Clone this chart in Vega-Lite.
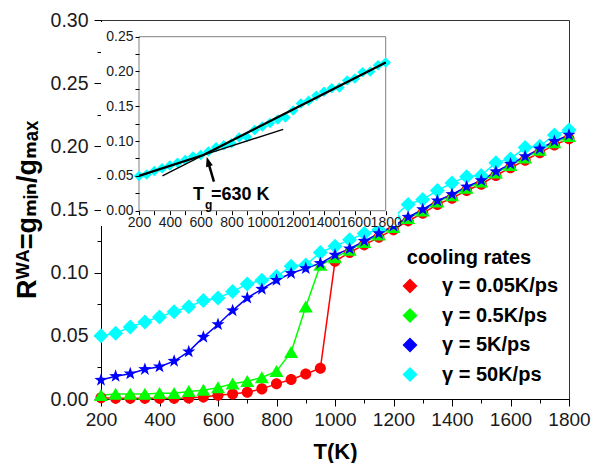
{
  "$schema": "https://vega.github.io/schema/vega-lite/v6.json",
  "width": 468,
  "height": 379,
  "autosize": {"type": "none"},
  "padding": {"left": 101, "top": 20, "right": 32, "bottom": 64},
  "background": "white",
  "config": {
    "font": "Liberation Sans",
    "view": {"stroke": "#333333", "strokeWidth": 1},
    "axis": {"grid": false, "domainColor": "#000000", "tickColor": "#000000", "labelColor": "#1a1a1a", "labelFont": "Liberation Sans", "titleFont": "Liberation Sans, DejaVu Sans", "titleColor": "#000000"}
  },
  "datasets": {
    "rates": [
      {"series": "γ = 50K/ps", "T": 200, "R": 0.050}, {"series": "γ = 50K/ps", "T": 250, "R": 0.052}, {"series": "γ = 50K/ps", "T": 300, "R": 0.057}, {"series": "γ = 50K/ps", "T": 350, "R": 0.061}, {"series": "γ = 50K/ps", "T": 400, "R": 0.065}, {"series": "γ = 50K/ps", "T": 450, "R": 0.069}, {"series": "γ = 50K/ps", "T": 500, "R": 0.073}, {"series": "γ = 50K/ps", "T": 550, "R": 0.078}, {"series": "γ = 50K/ps", "T": 600, "R": 0.080}, {"series": "γ = 50K/ps", "T": 650, "R": 0.085}, {"series": "γ = 50K/ps", "T": 700, "R": 0.091}, {"series": "γ = 50K/ps", "T": 750, "R": 0.094}, {"series": "γ = 50K/ps", "T": 800, "R": 0.097}, {"series": "γ = 50K/ps", "T": 850, "R": 0.105}, {"series": "γ = 50K/ps", "T": 900, "R": 0.106}, {"series": "γ = 50K/ps", "T": 950, "R": 0.116}, {"series": "γ = 50K/ps", "T": 1000, "R": 0.121}, {"series": "γ = 50K/ps", "T": 1050, "R": 0.126}, {"series": "γ = 50K/ps", "T": 1100, "R": 0.131}, {"series": "γ = 50K/ps", "T": 1150, "R": 0.134}, {"series": "γ = 50K/ps", "T": 1200, "R": 0.144}, {"series": "γ = 50K/ps", "T": 1250, "R": 0.154}, {"series": "γ = 50K/ps", "T": 1300, "R": 0.158}, {"series": "γ = 50K/ps", "T": 1350, "R": 0.165}, {"series": "γ = 50K/ps", "T": 1400, "R": 0.171}, {"series": "γ = 50K/ps", "T": 1450, "R": 0.176}, {"series": "γ = 50K/ps", "T": 1500, "R": 0.177}, {"series": "γ = 50K/ps", "T": 1550, "R": 0.187}, {"series": "γ = 50K/ps", "T": 1600, "R": 0.190}, {"series": "γ = 50K/ps", "T": 1650, "R": 0.199}, {"series": "γ = 50K/ps", "T": 1700, "R": 0.200}, {"series": "γ = 50K/ps", "T": 1750, "R": 0.209}, {"series": "γ = 50K/ps", "T": 1800, "R": 0.213},
      {"series": "γ = 0.05K/ps", "T": 200, "R": 0.001}, {"series": "γ = 0.05K/ps", "T": 250, "R": 0.0005}, {"series": "γ = 0.05K/ps", "T": 300, "R": 0.0005}, {"series": "γ = 0.05K/ps", "T": 350, "R": 0.0005}, {"series": "γ = 0.05K/ps", "T": 400, "R": 0.0005}, {"series": "γ = 0.05K/ps", "T": 450, "R": 0.0005}, {"series": "γ = 0.05K/ps", "T": 500, "R": 0.0008}, {"series": "γ = 0.05K/ps", "T": 550, "R": 0.0015}, {"series": "γ = 0.05K/ps", "T": 600, "R": 0.003}, {"series": "γ = 0.05K/ps", "T": 650, "R": 0.004}, {"series": "γ = 0.05K/ps", "T": 700, "R": 0.0053}, {"series": "γ = 0.05K/ps", "T": 750, "R": 0.008}, {"series": "γ = 0.05K/ps", "T": 800, "R": 0.012}, {"series": "γ = 0.05K/ps", "T": 850, "R": 0.0155}, {"series": "γ = 0.05K/ps", "T": 900, "R": 0.0198}, {"series": "γ = 0.05K/ps", "T": 950, "R": 0.0243}, {"series": "γ = 0.05K/ps", "T": 1000, "R": 0.109}, {"series": "γ = 0.05K/ps", "T": 1050, "R": 0.116}, {"series": "γ = 0.05K/ps", "T": 1100, "R": 0.122}, {"series": "γ = 0.05K/ps", "T": 1150, "R": 0.128}, {"series": "γ = 0.05K/ps", "T": 1200, "R": 0.134}, {"series": "γ = 0.05K/ps", "T": 1250, "R": 0.141}, {"series": "γ = 0.05K/ps", "T": 1300, "R": 0.147}, {"series": "γ = 0.05K/ps", "T": 1350, "R": 0.154}, {"series": "γ = 0.05K/ps", "T": 1400, "R": 0.159}, {"series": "γ = 0.05K/ps", "T": 1450, "R": 0.165}, {"series": "γ = 0.05K/ps", "T": 1500, "R": 0.170}, {"series": "γ = 0.05K/ps", "T": 1550, "R": 0.177}, {"series": "γ = 0.05K/ps", "T": 1600, "R": 0.183}, {"series": "γ = 0.05K/ps", "T": 1650, "R": 0.189}, {"series": "γ = 0.05K/ps", "T": 1700, "R": 0.195}, {"series": "γ = 0.05K/ps", "T": 1750, "R": 0.201}, {"series": "γ = 0.05K/ps", "T": 1800, "R": 0.206},
      {"series": "γ = 0.5K/ps", "T": 200, "R": 0.003}, {"series": "γ = 0.5K/ps", "T": 250, "R": 0.004}, {"series": "γ = 0.5K/ps", "T": 300, "R": 0.004}, {"series": "γ = 0.5K/ps", "T": 350, "R": 0.004}, {"series": "γ = 0.5K/ps", "T": 400, "R": 0.0045}, {"series": "γ = 0.5K/ps", "T": 450, "R": 0.0045}, {"series": "γ = 0.5K/ps", "T": 500, "R": 0.006}, {"series": "γ = 0.5K/ps", "T": 550, "R": 0.007}, {"series": "γ = 0.5K/ps", "T": 600, "R": 0.009}, {"series": "γ = 0.5K/ps", "T": 650, "R": 0.012}, {"series": "γ = 0.5K/ps", "T": 700, "R": 0.014}, {"series": "γ = 0.5K/ps", "T": 750, "R": 0.017}, {"series": "γ = 0.5K/ps", "T": 800, "R": 0.022}, {"series": "γ = 0.5K/ps", "T": 850, "R": 0.037}, {"series": "γ = 0.5K/ps", "T": 900, "R": 0.073}, {"series": "γ = 0.5K/ps", "T": 950, "R": 0.106}, {"series": "γ = 0.5K/ps", "T": 1000, "R": 0.112}, {"series": "γ = 0.5K/ps", "T": 1050, "R": 0.118}, {"series": "γ = 0.5K/ps", "T": 1100, "R": 0.124}, {"series": "γ = 0.5K/ps", "T": 1150, "R": 0.130}, {"series": "γ = 0.5K/ps", "T": 1200, "R": 0.136}, {"series": "γ = 0.5K/ps", "T": 1250, "R": 0.143}, {"series": "γ = 0.5K/ps", "T": 1300, "R": 0.149}, {"series": "γ = 0.5K/ps", "T": 1350, "R": 0.156}, {"series": "γ = 0.5K/ps", "T": 1400, "R": 0.161}, {"series": "γ = 0.5K/ps", "T": 1450, "R": 0.167}, {"series": "γ = 0.5K/ps", "T": 1500, "R": 0.172}, {"series": "γ = 0.5K/ps", "T": 1550, "R": 0.179}, {"series": "γ = 0.5K/ps", "T": 1600, "R": 0.185}, {"series": "γ = 0.5K/ps", "T": 1650, "R": 0.191}, {"series": "γ = 0.5K/ps", "T": 1700, "R": 0.197}, {"series": "γ = 0.5K/ps", "T": 1750, "R": 0.203}, {"series": "γ = 0.5K/ps", "T": 1800, "R": 0.208},
      {"series": "γ = 5K/ps", "T": 200, "R": 0.015}, {"series": "γ = 5K/ps", "T": 250, "R": 0.018}, {"series": "γ = 5K/ps", "T": 300, "R": 0.020}, {"series": "γ = 5K/ps", "T": 350, "R": 0.0235}, {"series": "γ = 5K/ps", "T": 400, "R": 0.0256}, {"series": "γ = 5K/ps", "T": 450, "R": 0.030}, {"series": "γ = 5K/ps", "T": 500, "R": 0.0375}, {"series": "γ = 5K/ps", "T": 550, "R": 0.049}, {"series": "γ = 5K/ps", "T": 600, "R": 0.059}, {"series": "γ = 5K/ps", "T": 650, "R": 0.070}, {"series": "γ = 5K/ps", "T": 700, "R": 0.080}, {"series": "γ = 5K/ps", "T": 750, "R": 0.087}, {"series": "γ = 5K/ps", "T": 800, "R": 0.094}, {"series": "γ = 5K/ps", "T": 850, "R": 0.0995}, {"series": "γ = 5K/ps", "T": 900, "R": 0.1034}, {"series": "γ = 5K/ps", "T": 950, "R": 0.1074}, {"series": "γ = 5K/ps", "T": 1000, "R": 0.114}, {"series": "γ = 5K/ps", "T": 1050, "R": 0.119}, {"series": "γ = 5K/ps", "T": 1100, "R": 0.125}, {"series": "γ = 5K/ps", "T": 1150, "R": 0.131}, {"series": "γ = 5K/ps", "T": 1200, "R": 0.137}, {"series": "γ = 5K/ps", "T": 1250, "R": 0.144}, {"series": "γ = 5K/ps", "T": 1300, "R": 0.150}, {"series": "γ = 5K/ps", "T": 1350, "R": 0.157}, {"series": "γ = 5K/ps", "T": 1400, "R": 0.162}, {"series": "γ = 5K/ps", "T": 1450, "R": 0.168}, {"series": "γ = 5K/ps", "T": 1500, "R": 0.173}, {"series": "γ = 5K/ps", "T": 1550, "R": 0.180}, {"series": "γ = 5K/ps", "T": 1600, "R": 0.186}, {"series": "γ = 5K/ps", "T": 1650, "R": 0.192}, {"series": "γ = 5K/ps", "T": 1700, "R": 0.198}, {"series": "γ = 5K/ps", "T": 1750, "R": 0.204}, {"series": "γ = 5K/ps", "T": 1800, "R": 0.209}
    ],
    "fits": [
      {"fit": "low", "T": 200, "R": 0.050}, {"fit": "low", "T": 1135, "R": 0.117},
      {"fit": "high", "T": 352, "R": 0.050}, {"fit": "high", "T": 1800, "R": 0.213},
      {"fit": "main", "T": 200, "R": 0.050}, {"fit": "main", "T": 618, "R": 0.080}, {"fit": "main", "T": 1800, "R": 0.213}
    ]
  },
  "layer": [
    {
      "layer": [
        {
          "data": {"name": "rates"},
          "mark": {"type": "line", "strokeWidth": 1.5},
          "encoding": {
            "x": {"field": "T", "type": "quantitative", "scale": {"domain": [200, 1800], "nice": false, "zero": false},
              "axis": {"orient": "bottom", "values": [200, 400, 600, 800, 1000, 1200, 1400, 1600, 1800], "format": "d", "tickSize": 7, "labelFontSize": 19, "labelPadding": 4, "labelFlush": false, "labelOverlap": false, "title": "T(K)", "titleFontSize": 22, "titleFontWeight": "bold", "titlePadding": 12}},
            "y": {"field": "R", "type": "quantitative", "scale": {"domain": [0, 0.3], "nice": false, "zero": false},
              "axis": {"orient": "left", "values": [0, 0.05, 0.1, 0.15, 0.2, 0.25, 0.3], "format": ".2f", "tickSize": 7, "labelFontSize": 19.5, "labelPadding": 6, "labelFlush": false, "labelOverlap": false, "title": "Rᵂᴬ=gₘᵢₙ/gₘₐₓ", "titleFontSize": 27, "titleFontWeight": "bold", "titlePadding": 9}},
            "color": {"field": "series", "type": "nominal",
              "scale": {"domain": ["γ = 0.05K/ps", "γ = 0.5K/ps", "γ = 5K/ps", "γ = 50K/ps"], "range": ["#ff0000", "#00ff00", "#0000ff", "#00ffff"]},
              "legend": null}
          }
        },
        {
          "data": {"name": "rates"},
          "transform": [{"filter": "datum.series === 'γ = 50K/ps'"}],
          "mark": {"type": "point", "filled": true, "opacity": 1, "size": 144, "shape": "M-1.25,0L0,-1.25L1.25,0L0,1.25Z"},
          "encoding": {
            "x": {"field": "T", "type": "quantitative", "scale": {"domain": [200, 1800], "nice": false, "zero": false},
              "axis": {"orient": "bottom", "values": [300, 500, 700, 900, 1100, 1300, 1500, 1700], "tickSize": 4, "labels": false, "domain": false, "title": null}},
            "y": {"field": "R", "type": "quantitative", "scale": {"domain": [0, 0.3], "nice": false, "zero": false},
              "axis": {"orient": "left", "values": [0.025, 0.075, 0.125, 0.175, 0.225, 0.275], "tickSize": 4, "labels": false, "domain": false, "title": null}},
            "color": {"field": "series", "type": "nominal",
              "scale": {"domain": ["γ = 0.05K/ps", "γ = 0.5K/ps", "γ = 5K/ps", "γ = 50K/ps"], "range": ["#ff0000", "#00ff00", "#0000ff", "#00ffff"]},
              "legend": {"orient": "none", "legendX": 279, "legendY": 228, "padding": 0, "title": "cooling rates", "titleFontSize": 20, "titleFontWeight": "bold", "titleColor": "#000000", "titleAnchor": "middle", "titlePadding": 8, "labelFontSize": 20, "labelFontWeight": "bold", "labelColor": "#000000", "labelFont": "Liberation Sans, DejaVu Sans", "titleFont": "Liberation Sans", "labelOffset": 22, "symbolOffset": 20, "symbolSize": 144, "rowPadding": 9.5,
                "encode": {"symbols": {"update": {
                  "shape": {"signal": "datum.value === 'γ = 0.05K/ps' ? 'M-4.2,0L4.2,0M-0.85,0A0.85,0.85,0,1,0,0.85,0A0.85,0.85,0,1,0,-0.85,0Z' : datum.value === 'γ = 0.5K/ps' ? 'M-4.2,0L4.2,0M0,-1.1L1.05,0.85L-1.05,0.85Z' : datum.value === 'γ = 5K/ps' ? 'M-4.2,0L4.2,0M0,-0.95L0.223,-0.308L0.904,-0.294L0.361,0.118L0.559,0.769L0,0.38L-0.559,0.769L-0.361,0.118L-0.904,-0.294L-0.223,-0.308Z' : 'M-4.2,0L4.2,0M-1.2,0L0,-1.2L1.2,0L0,1.2Z'"},
                  "stroke": {"signal": "datum.value === 'γ = 0.05K/ps' ? '#ff0000' : datum.value === 'γ = 0.5K/ps' ? '#00ff00' : datum.value === 'γ = 5K/ps' ? '#0000ff' : '#00ffff'"},
                  "strokeWidth": {"value": 1.5},
                  "opacity": {"value": 1}
                }}}}}
          }
        },
        {
          "data": {"name": "rates"},
          "transform": [{"filter": "datum.series === 'γ = 0.05K/ps'"}],
          "mark": {"type": "point", "filled": true, "opacity": 1, "size": 144, "color": "#ff0000", "shape": "M-0.92,0A0.92,0.92,0,1,0,0.92,0A0.92,0.92,0,1,0,-0.92,0Z"},
          "encoding": {
            "x": {"field": "T", "type": "quantitative", "scale": {"domain": [200, 1800], "nice": false, "zero": false}, "axis": null},
            "y": {"field": "R", "type": "quantitative", "scale": {"domain": [0, 0.3], "nice": false, "zero": false}, "axis": null}
          }
        },
        {
          "data": {"name": "rates"},
          "transform": [{"filter": "datum.series === 'γ = 0.5K/ps'"}],
          "mark": {"type": "point", "filled": true, "opacity": 1, "size": 144, "color": "#00ff00", "shape": "M0,-1.05L1.17,0.95L-1.17,0.95Z"},
          "encoding": {
            "x": {"field": "T", "type": "quantitative", "scale": {"domain": [200, 1800], "nice": false, "zero": false}, "axis": null},
            "y": {"field": "R", "type": "quantitative", "scale": {"domain": [0, 0.3], "nice": false, "zero": false}, "axis": null}
          }
        },
        {
          "data": {"name": "rates"},
          "transform": [{"filter": "datum.series === 'γ = 5K/ps'"}],
          "mark": {"type": "point", "filled": true, "opacity": 1, "size": 144, "color": "#0000ff", "shape": "M0,-1.15L0.27,-0.373L1.094,-0.355L0.437,0.143L0.676,0.93L0,0.46L-0.676,0.93L-0.437,0.143L-1.094,-0.355L-0.27,-0.373Z"},
          "encoding": {
            "x": {"field": "T", "type": "quantitative", "scale": {"domain": [200, 1800], "nice": false, "zero": false}, "axis": null},
            "y": {"field": "R", "type": "quantitative", "scale": {"domain": [0, 0.3], "nice": false, "zero": false}, "axis": null}
          }
        },
        {
          "data": {"values": [{}]},
          "mark": {"type": "rect", "fill": "white", "stroke": null},
          "encoding": {
            "x": {"datum": 200, "type": "quantitative", "scale": {"domain": [200, 1800], "nice": false, "zero": false}, "axis": null},
            "x2": {"datum": 1215},
            "y": {"datum": 0.137, "type": "quantitative", "scale": {"domain": [0, 0.3], "nice": false, "zero": false}, "axis": null},
            "y2": {"datum": 0.2984}
          }
        }
      ],
      "resolve": {"axis": {"x": "independent", "y": "independent"}, "legend": {"color": "independent"}}
    },
    {
      "layer": [
        {
          "data": {"values": [{}]},
          "mark": {"type": "rect", "fill": null, "stroke": "#808080", "strokeWidth": 1},
          "encoding": {
            "x": {"datum": 200, "type": "quantitative", "scale": {"domain": [-46.4, 2988.8], "nice": false, "zero": false},
              "axis": {"orient": "bottom", "offset": -188.3, "zindex": 1, "domain": false, "values": [200, 300, 400, 500, 600, 700, 800, 900, 1000, 1100, 1200, 1300, 1400, 1500, 1600, 1700, 1800], "format": "d", "labelExpr": "datum.value % 200 === 0 ? datum.label : ''", "tickSize": 4, "labelFontSize": 14, "labelPadding": 1, "labelFlush": false, "labelOverlap": false, "title": null}},
            "x2": {"datum": 1800},
            "y": {"datum": 0, "type": "quantitative", "scale": {"domain": [-0.27055, 0.27399], "nice": false, "zero": false},
              "axis": {"orient": "left", "offset": -38, "zindex": 1, "domain": false, "values": [0, 0.025, 0.05, 0.075, 0.1, 0.125, 0.15, 0.175, 0.2, 0.225, 0.25], "format": ".2f", "labelExpr": "round(datum.value * 1000) % 50 === 0 ? datum.label : ''", "tickSize": 4, "labelFontSize": 14, "labelPadding": 2, "labelFlush": false, "labelOverlap": false, "title": null}},
            "y2": {"datum": 0.25}
          }
        },
        {
          "data": {"name": "rates"},
          "transform": [{"filter": "datum.series === 'γ = 50K/ps'"}],
          "mark": {"type": "point", "shape": "diamond", "filled": true, "color": "#00ffff", "size": 110, "opacity": 1},
          "encoding": {
            "x": {"field": "T", "type": "quantitative", "scale": {"domain": [-46.4, 2988.8], "nice": false, "zero": false}, "axis": null},
            "y": {"field": "R", "type": "quantitative", "scale": {"domain": [-0.27055, 0.27399], "nice": false, "zero": false}, "axis": null}
          }
        },
        {
          "data": {"name": "fits"},
          "transform": [{"filter": "datum.fit !== 'main'"}],
          "mark": {"type": "line", "color": "#000000", "strokeWidth": 1.3},
          "encoding": {
            "x": {"field": "T", "type": "quantitative", "scale": {"domain": [-46.4, 2988.8], "nice": false, "zero": false}, "axis": null},
            "y": {"field": "R", "type": "quantitative", "scale": {"domain": [-0.27055, 0.27399], "nice": false, "zero": false}, "axis": null},
            "detail": {"field": "fit", "type": "nominal"}
          }
        },
        {
          "data": {"name": "fits"},
          "transform": [{"filter": "datum.fit === 'main'"}],
          "mark": {"type": "line", "color": "#000000", "strokeWidth": 2.2},
          "encoding": {
            "x": {"field": "T", "type": "quantitative", "scale": {"domain": [-46.4, 2988.8], "nice": false, "zero": false}, "axis": null},
            "y": {"field": "R", "type": "quantitative", "scale": {"domain": [-0.27055, 0.27399], "nice": false, "zero": false}, "axis": null}
          }
        },
        {
          "data": {"values": [{}]},
          "mark": {"type": "rule", "color": "#000000", "strokeWidth": 2.5},
          "encoding": {
            "x": {"datum": 686, "type": "quantitative", "scale": {"domain": [-46.4, 2988.8], "nice": false, "zero": false}, "axis": null},
            "y": {"datum": 0.0417, "type": "quantitative", "scale": {"domain": [-0.27055, 0.27399], "nice": false, "zero": false}, "axis": null},
            "x2": {"datum": 655},
            "y2": {"datum": 0.065}
          }
        },
        {
          "data": {"values": [{}]},
          "mark": {"type": "point", "shape": "M0,0L0.7,2L-0.7,2Z", "filled": true, "color": "#000000", "size": 100, "angle": -16, "opacity": 1},
          "encoding": {
            "x": {"datum": 639, "type": "quantitative", "scale": {"domain": [-46.4, 2988.8], "nice": false, "zero": false}, "axis": null},
            "y": {"datum": 0.0776, "type": "quantitative", "scale": {"domain": [-0.27055, 0.27399], "nice": false, "zero": false}, "axis": null}
          }
        },
        {
          "data": {"values": [{}]},
          "mark": {"type": "text", "text": "T", "font": "Liberation Sans", "fontSize": 18, "fontWeight": "bold", "align": "left", "baseline": "alphabetic", "color": "#000000"},
          "encoding": {
            "x": {"datum": 550, "type": "quantitative", "scale": {"domain": [-46.4, 2988.8], "nice": false, "zero": false}, "axis": null},
            "y": {"datum": 0.015, "type": "quantitative", "scale": {"domain": [-0.27055, 0.27399], "nice": false, "zero": false}, "axis": null}
          }
        },
        {
          "data": {"values": [{}]},
          "mark": {"type": "text", "text": "g", "font": "Liberation Sans", "fontSize": 12, "fontWeight": "bold", "align": "left", "baseline": "alphabetic", "dx": 12, "dy": 9, "color": "#000000"},
          "encoding": {
            "x": {"datum": 550, "type": "quantitative", "scale": {"domain": [-46.4, 2988.8], "nice": false, "zero": false}, "axis": null},
            "y": {"datum": 0.015, "type": "quantitative", "scale": {"domain": [-0.27055, 0.27399], "nice": false, "zero": false}, "axis": null}
          }
        },
        {
          "data": {"values": [{}]},
          "mark": {"type": "text", "text": "=630 K", "font": "Liberation Sans", "fontSize": 18, "fontWeight": "bold", "align": "left", "baseline": "alphabetic", "dx": 18, "color": "#000000"},
          "encoding": {
            "x": {"datum": 550, "type": "quantitative", "scale": {"domain": [-46.4, 2988.8], "nice": false, "zero": false}, "axis": null},
            "y": {"datum": 0.015, "type": "quantitative", "scale": {"domain": [-0.27055, 0.27399], "nice": false, "zero": false}, "axis": null}
          }
        }
      ],
      "resolve": {"axis": {"x": "independent", "y": "independent"}}
    }
  ],
  "resolve": {"scale": {"x": "independent", "y": "independent"}, "axis": {"x": "independent", "y": "independent"}}
}
